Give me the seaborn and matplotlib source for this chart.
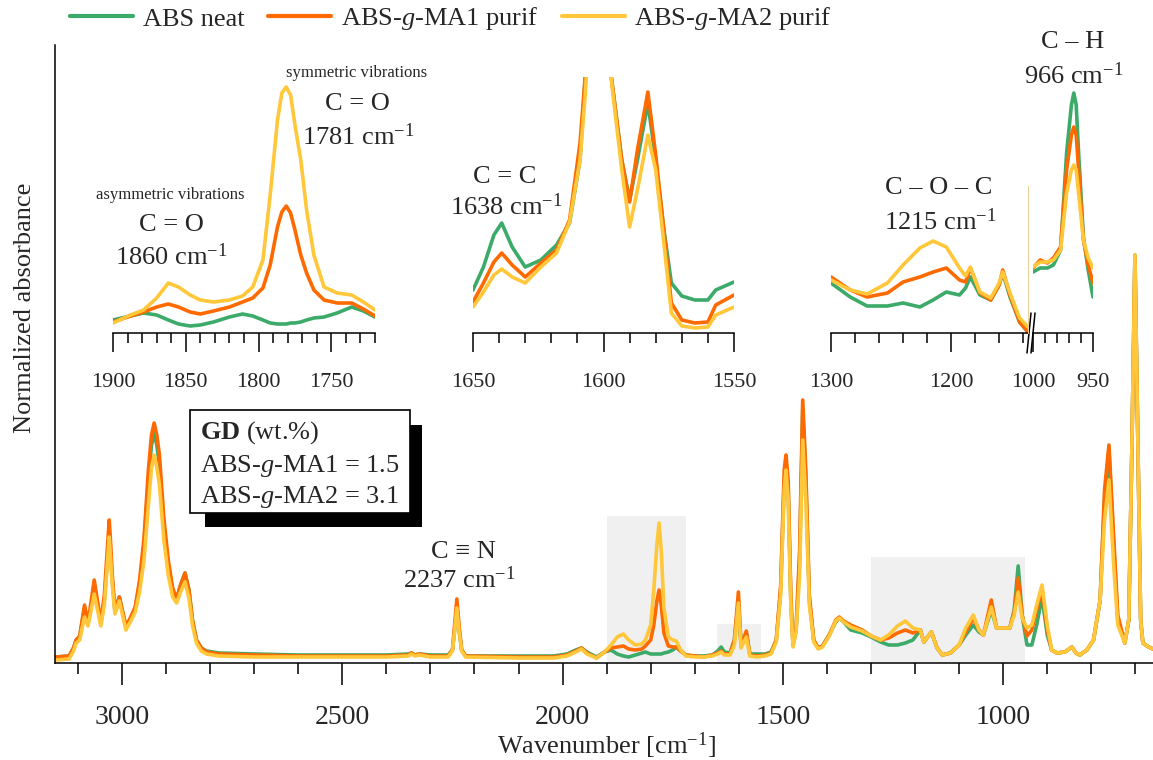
import numpy as np
import pandas as pd
import matplotlib
matplotlib.use("Agg")
import matplotlib.pyplot as plt
import seaborn as sns
from matplotlib.ticker import MultipleLocator
from matplotlib.patches import Rectangle
from matplotlib.lines import Line2D

# ---------------- data (absorbance, arbitrary normalized units) ----------------
SAMPLES = ["ABS neat", "ABS-$g$-MA1 purif", "ABS-$g$-MA2 purif"]
COLORS = ["#3CAA69", "#FF6A00", "#FFC739"]

main_wn = [3150, 3120, 3110, 3104, 3096, 3085, 3077, 3063, 3048, 3040, 3032, 3029, 3026, 3022,
           3016, 3006, 2991, 2980, 2970, 2960, 2950, 2940, 2933, 2927, 2921, 2915, 2905, 2895,
           2885, 2876, 2867, 2857, 2848, 2840, 2831, 2820, 2808, 2780, 2700, 2600, 2500, 2400,
           2350, 2343, 2335, 2325, 2300, 2260, 2250, 2245, 2240, 2235, 2229, 2220, 2100, 2020,
           1990, 1970, 1957, 1945, 1923, 1905, 1890, 1876, 1862, 1850, 1835, 1820, 1812, 1800,
           1793, 1786, 1781, 1776, 1770, 1760, 1750, 1742, 1732, 1720, 1700, 1680, 1660, 1648,
           1640, 1633, 1620, 1610, 1601, 1595, 1583, 1575, 1560, 1540, 1527, 1515, 1505, 1497,
           1493, 1488, 1482, 1477, 1470, 1462, 1455, 1448, 1440, 1430, 1420, 1410, 1395, 1380,
           1372, 1362, 1346, 1320, 1300, 1278, 1260, 1240, 1222, 1205, 1188, 1180, 1163, 1150,
           1138, 1120, 1100, 1085, 1068, 1055, 1045, 1027, 1015, 1000, 985, 975, 966, 957, 946,
           935, 924, 912, 900, 890, 878, 860, 844, 835, 826, 810, 795, 780, 770, 760, 750, 740,
           724, 715, 708, 701, 694, 688, 683, 670, 660]
main_neat = [0.06, 0.07, 0.15, 0.23, 0.26, 0.55, 0.40, 0.74, 0.40, 0.63, 1.10, 1.30, 1.10, 0.83,
             0.52, 0.66, 0.36, 0.45, 0.55, 0.78, 1.18, 1.83, 2.18, 2.30, 2.18, 1.98, 1.38, 0.98,
             0.73, 0.64, 0.78, 0.90, 0.73, 0.43, 0.23, 0.15, 0.12, 0.10, 0.09, 0.08, 0.08, 0.08,
             0.09, 0.10, 0.08, 0.09, 0.08, 0.08, 0.13, 0.33, 0.57, 0.33, 0.13, 0.07, 0.07, 0.07,
             0.09, 0.13, 0.15, 0.11, 0.06, 0.11, 0.13, 0.09, 0.07, 0.06, 0.08, 0.10, 0.11, 0.09,
             0.09, 0.09, 0.09, 0.09, 0.10, 0.11, 0.13, 0.16, 0.12, 0.08, 0.07, 0.07, 0.08, 0.12,
             0.16, 0.11, 0.10, 0.23, 0.63, 0.18, 0.30, 0.09, 0.09, 0.09, 0.11, 0.23, 0.73, 1.83,
             2.03, 1.73, 0.63, 0.18, 0.33, 1.03, 2.53, 1.83, 0.63, 0.23, 0.15, 0.17, 0.28, 0.41,
             0.45, 0.41, 0.33, 0.30, 0.26, 0.21, 0.18, 0.18, 0.20, 0.23, 0.33, 0.21, 0.31, 0.15,
             0.08, 0.10, 0.18, 0.28, 0.38, 0.31, 0.28, 0.53, 0.35, 0.35, 0.35, 0.53, 0.97, 0.48,
             0.18, 0.18, 0.38, 0.66, 0.28, 0.13, 0.10, 0.11, 0.16, 0.10, 0.08, 0.13, 0.23, 0.63,
             1.63, 2.13, 1.23, 0.43, 0.20, 0.43, 2.13, 4.08, 2.13, 0.43, 0.20, 0.16, 0.14]
main_ma1 = [0.06, 0.07, 0.15, 0.23, 0.27, 0.58, 0.40, 0.83, 0.41, 0.68, 1.22, 1.43, 1.22, 0.88,
            0.53, 0.66, 0.37, 0.46, 0.56, 0.83, 1.25, 1.93, 2.28, 2.40, 2.28, 2.08, 1.45, 1.03,
            0.75, 0.64, 0.78, 0.90, 0.73, 0.43, 0.23, 0.15, 0.11, 0.09, 0.08, 0.07, 0.07, 0.07,
            0.08, 0.10, 0.08, 0.09, 0.07, 0.07, 0.13, 0.38, 0.64, 0.38, 0.13, 0.07, 0.06, 0.06,
            0.08, 0.12, 0.15, 0.10, 0.05, 0.11, 0.15, 0.16, 0.17, 0.14, 0.13, 0.14, 0.17, 0.23,
            0.38, 0.62, 0.73, 0.58, 0.30, 0.17, 0.16, 0.16, 0.12, 0.08, 0.07, 0.06, 0.08, 0.10,
            0.12, 0.09, 0.09, 0.23, 0.71, 0.17, 0.32, 0.08, 0.07, 0.08, 0.10, 0.23, 0.78, 1.93,
            2.08, 1.83, 0.68, 0.18, 0.35, 1.13, 2.63, 1.93, 0.68, 0.23, 0.15, 0.17, 0.28, 0.43,
            0.46, 0.42, 0.38, 0.33, 0.27, 0.23, 0.25, 0.30, 0.33, 0.30, 0.33, 0.21, 0.31, 0.15,
            0.08, 0.10, 0.18, 0.31, 0.45, 0.33, 0.28, 0.63, 0.35, 0.35, 0.35, 0.51, 0.85, 0.48,
            0.27, 0.33, 0.53, 0.75, 0.33, 0.13, 0.10, 0.11, 0.16, 0.10, 0.08, 0.13, 0.23, 0.63,
            1.73, 2.18, 1.33, 0.48, 0.20, 0.43, 2.13, 4.05, 2.13, 0.43, 0.20, 0.16, 0.14]
main_ma2 = [0.03, 0.04, 0.12, 0.20, 0.23, 0.46, 0.37, 0.69, 0.37, 0.58, 1.06, 1.26, 1.06, 0.78,
            0.49, 0.62, 0.33, 0.42, 0.51, 0.71, 1.03, 1.58, 1.95, 2.08, 1.96, 1.78, 1.23, 0.88,
            0.66, 0.60, 0.71, 0.81, 0.65, 0.38, 0.20, 0.12, 0.09, 0.07, 0.06, 0.06, 0.06, 0.06,
            0.07, 0.09, 0.07, 0.08, 0.06, 0.06, 0.12, 0.32, 0.55, 0.32, 0.12, 0.06, 0.05, 0.05,
            0.07, 0.11, 0.14, 0.09, 0.05, 0.11, 0.18, 0.26, 0.29, 0.23, 0.18, 0.19, 0.23, 0.38,
            0.73, 1.18, 1.40, 1.12, 0.55, 0.26, 0.23, 0.22, 0.13, 0.07, 0.06, 0.06, 0.07, 0.09,
            0.11, 0.08, 0.08, 0.18, 0.60, 0.15, 0.26, 0.07, 0.06, 0.07, 0.09, 0.21, 0.68, 1.73,
            1.93, 1.63, 0.58, 0.16, 0.31, 0.88, 2.23, 1.63, 0.58, 0.21, 0.14, 0.16, 0.27, 0.42,
            0.45, 0.41, 0.36, 0.32, 0.27, 0.23, 0.28, 0.37, 0.42, 0.35, 0.33, 0.21, 0.31, 0.15,
            0.08, 0.10, 0.18, 0.35, 0.48, 0.33, 0.28, 0.56, 0.35, 0.35, 0.35, 0.48, 0.71, 0.45,
            0.35, 0.38, 0.58, 0.78, 0.38, 0.13, 0.10, 0.11, 0.16, 0.10, 0.08, 0.13, 0.23, 0.63,
            1.43, 1.83, 1.03, 0.38, 0.20, 0.43, 2.13, 4.08, 2.13, 0.43, 0.20, 0.16, 0.14]

# inset 1: C=O region
co_wn = [1900, 1888, 1879, 1870, 1862, 1855, 1847, 1840, 1831, 1820, 1811, 1804, 1797, 1792,
         1787, 1784, 1781, 1778, 1775, 1771, 1767, 1762, 1755, 1746, 1736, 1728, 1720]
co_neat = [0.13, 0.17, 0.20, 0.18, 0.13, 0.09, 0.07, 0.08, 0.11, 0.16, 0.19, 0.17, 0.13, 0.10,
           0.09, 0.09, 0.09, 0.10, 0.10, 0.11, 0.13, 0.15, 0.16, 0.20, 0.26, 0.22, 0.16]
co_ma1 = [0.11, 0.17, 0.21, 0.26, 0.29, 0.26, 0.21, 0.19, 0.22, 0.26, 0.31, 0.35, 0.45, 0.68,
          1.06, 1.21, 1.27, 1.20, 1.03, 0.78, 0.60, 0.43, 0.33, 0.30, 0.30, 0.24, 0.17]
co_ma2 = [0.10, 0.18, 0.23, 0.35, 0.50, 0.46, 0.38, 0.33, 0.31, 0.33, 0.37, 0.46, 0.73, 1.38,
          2.13, 2.40, 2.46, 2.38, 2.08, 1.73, 1.23, 0.78, 0.46, 0.40, 0.38, 0.31, 0.23]

# inset 2: C=C region
cc_wn = [1650, 1646, 1642, 1639, 1635, 1630, 1624, 1618, 1613, 1609, 1607, 1601, 1597, 1593,
         1590, 1587, 1583, 1580, 1577, 1574, 1570, 1565, 1560, 1557, 1550]
cc_neat = [0.43, 0.66, 0.98, 1.10, 0.86, 0.66, 0.73, 0.88, 1.10, 1.73, 2.56, 5.00, 2.56, 1.73,
           1.33, 1.73, 2.30, 1.73, 1.06, 0.50, 0.37, 0.33, 0.33, 0.43, 0.51]
cc_ma1 = [0.31, 0.50, 0.71, 0.80, 0.68, 0.56, 0.70, 0.83, 1.13, 1.90, 2.56, 5.00, 2.56, 1.73,
          1.31, 1.83, 2.41, 1.78, 1.06, 0.30, 0.13, 0.10, 0.11, 0.28, 0.38]
cc_ma2 = [0.26, 0.41, 0.58, 0.64, 0.56, 0.50, 0.66, 0.80, 1.11, 1.73, 2.38, 5.00, 2.53, 1.63,
          1.06, 1.43, 1.98, 1.63, 0.93, 0.20, 0.07, 0.05, 0.06, 0.18, 0.26]

# inset 3a: C-O-C region
coc_wn = [1300, 1284, 1270, 1253, 1240, 1226, 1215, 1204, 1193, 1188, 1184, 1180, 1176, 1167,
          1160, 1157, 1151, 1143, 1136]
coc_neat = [0.50, 0.36, 0.27, 0.27, 0.30, 0.26, 0.33, 0.41, 0.38, 0.45, 0.56, 0.47, 0.38, 0.33,
            0.48, 0.60, 0.36, 0.11, 0.01]
coc_ma1 = [0.56, 0.43, 0.36, 0.40, 0.51, 0.56, 0.61, 0.65, 0.53, 0.51, 0.65, 0.53, 0.40, 0.33,
           0.48, 0.63, 0.38, 0.11, 0.01]
coc_ma2 = [0.53, 0.43, 0.39, 0.50, 0.68, 0.85, 0.92, 0.86, 0.65, 0.57, 0.66, 0.53, 0.41, 0.35,
           0.50, 0.61, 0.40, 0.15, 0.06]

# inset 3b: C-H region
ch_wn = [1000, 994, 988, 983, 977, 972, 968, 966, 964, 962, 958, 954, 950]
ch_neat = [0.61, 0.65, 0.65, 0.68, 0.83, 1.80, 2.28, 2.40, 2.28, 1.80, 0.96, 0.63, 0.36]
ch_ma1 = [0.65, 0.73, 0.70, 0.75, 0.86, 1.63, 1.98, 2.06, 1.98, 1.63, 0.93, 0.68, 0.50]
ch_ma2 = [0.66, 0.71, 0.71, 0.73, 0.83, 1.40, 1.63, 1.68, 1.63, 1.40, 0.93, 0.75, 0.65]

main_ticks = [3000, 2500, 2000, 1500, 1000]

# ---------------- style ----------------
sns.set_style("white")
plt.rcParams["font.family"] = ["Liberation Serif", "DejaVu Serif"]
plt.rcParams["mathtext.fontset"] = "custom"
plt.rcParams["mathtext.rm"] = "Liberation Serif"
plt.rcParams["mathtext.it"] = "Liberation Serif:italic"
plt.rcParams["mathtext.bf"] = "Liberation Serif:bold"

W, H = 1153, 760
fig = plt.figure(figsize=(W / 100, H / 100), dpi=100)


def rect(x0, y0, x1, y1):
    return [x0 / W, 1 - y1 / H, (x1 - x0) / W, (y1 - y0) / H]


def fx(x):
    return x / W


def fy(y):
    return 1 - y / H


def long_df(wn, series):
    frames = [pd.DataFrame({"wn": wn, "A": vals, "sample": name})
              for name, vals in zip(SAMPLES, series)]
    return pd.concat(frames, ignore_index=True)


def draw(ax, wn, series, legend=False, lw=2.6):
    sns.lineplot(data=long_df(wn, series), x="wn", y="A", hue="sample",
                 hue_order=SAMPLES, palette=COLORS, estimator=None, sort=False,
                 lw=lw, legend=legend, ax=ax)
    ax.set_xlabel("")
    ax.set_ylabel("")


def style_axis(ax, majors, minor_step, labelsize, pad, maj_len=14, min_len=7):
    ax.set_facecolor("none")
    for s in ["top", "right", "left"]:
        ax.spines[s].set_visible(False)
    ax.spines["bottom"].set_color("black")
    ax.spines["bottom"].set_linewidth(1.1)
    ax.set_yticks([])
    ax.set_xticks(majors)
    ax.xaxis.set_minor_locator(MultipleLocator(minor_step))
    ax.tick_params(axis="x", which="major", direction="out", length=maj_len, width=1.1,
                   color="black", labelsize=labelsize, pad=pad, bottom=True)
    ax.tick_params(axis="x", which="minor", direction="out", length=min_len, width=1.1,
                   color="black", bottom=True)


# ---------------- main axes ----------------
ax = fig.add_axes(rect(55, 45, 1153, 663))
for (a, b, top) in [(1900, 1720, 1.47), (1650, 1550, 0.39), (1300, 950, 1.06)]:
    ax.add_patch(Rectangle((b, 0), a - b, top, facecolor="#F0F0F0", edgecolor="none", zorder=0))
draw(ax, main_wn, [main_neat, main_ma1, main_ma2], legend=True)
handles, labels = ax.get_legend_handles_labels()
ax.get_legend().remove()
ax.set_xlim(3152, 660)
ax.set_ylim(0, 6.18)
style_axis(ax, main_ticks, 100, 20, 14, maj_len=16, min_len=8)
ax.spines["left"].set_visible(True)
ax.spines["left"].set_color("black")
ax.spines["left"].set_linewidth(1.1)

# ---------------- insets ----------------
ax1 = fig.add_axes(rect(113, 60, 375, 333))
draw(ax1, co_wn, [co_neat, co_ma1, co_ma2])
ax1.set_xlim(1900, 1720)
ax1.set_ylim(0, 2.73)
style_axis(ax1, [1900, 1850, 1800, 1750], 10, 16, 15)

ax2 = fig.add_axes(rect(473, 77, 734, 333))
draw(ax2, cc_wn, [cc_neat, cc_ma1, cc_ma2])
ax2.set_xlim(1650, 1550)
ax2.set_ylim(0, 2.56)
style_axis(ax2, [1650, 1600, 1550], 10, 16, 15)

ax3a = fig.add_axes(rect(831, 60, 1028, 333))
draw(ax3a, coc_wn, [coc_neat, coc_ma1, coc_ma2])
ax3a.set_xlim(1300, 1136)
ax3a.set_ylim(0, 2.73)
style_axis(ax3a, [1300, 1200], 20, 16, 15)

ax3b = fig.add_axes(rect(1033, 60, 1093, 333))
draw(ax3b, ch_wn, [ch_neat, ch_ma1, ch_ma2])
ax3b.set_xlim(1000, 950)
ax3b.set_ylim(0, 2.73)
style_axis(ax3b, [1000, 950], 10, 16, 15)

# axis break marks and faint edge line
for x0 in (1027, 1031):
    fig.add_artist(Line2D([fx(x0), fx(x0 + 4)], [fy(353), fy(313)], color="black", lw=1.1))
fig.add_artist(Line2D([fx(1028), fx(1028)], [fy(186), fy(333)], color="#EBCF9A", lw=0.8))

# ---------------- texts ----------------
TS = 19
fig.text(fx(25), fy(308), "Normalized absorbance", rotation=90, ha="center", va="center", fontsize=TS)
fig.text(fx(606), fy(746), "Wavenumber [cm$^{-1}$]", ha="center", va="center", fontsize=TS)

fig.text(fx(463), fy(552), "C ≡ N", ha="center", va="center", fontsize=TS)
fig.text(fx(459), fy(580), "2237 cm$^{-1}$", ha="center", va="center", fontsize=TS)

fig.text(fx(357), fy(73), "symmetric vibrations", ha="center", va="center", fontsize=12)
fig.text(fx(357), fy(104), "C = O", ha="center", va="center", fontsize=TS)
fig.text(fx(358), fy(137), "1781 cm$^{-1}$", ha="center", va="center", fontsize=TS)
fig.text(fx(170), fy(195), "asymmetric vibrations", ha="center", va="center", fontsize=12)
fig.text(fx(171), fy(225), "C = O", ha="center", va="center", fontsize=TS)
fig.text(fx(171), fy(257), "1860 cm$^{-1}$", ha="center", va="center", fontsize=TS)

fig.text(fx(505), fy(177), "C = C", ha="center", va="center", fontsize=TS)
fig.text(fx(506), fy(207), "1638 cm$^{-1}$", ha="center", va="center", fontsize=TS)

fig.text(fx(939), fy(188), "C – O – C", ha="center", va="center", fontsize=TS)
fig.text(fx(940), fy(222), "1215 cm$^{-1}$", ha="center", va="center", fontsize=TS)
fig.text(fx(1073), fy(42), "C – H", ha="center", va="center", fontsize=TS)
fig.text(fx(1074), fy(76), "966 cm$^{-1}$", ha="center", va="center", fontsize=TS)

# grafting degree box with shadow
fig.add_artist(Rectangle((fx(205), fy(527)), (422 - 205) / W, (527 - 425) / H,
                         transform=fig.transFigure, facecolor="black", edgecolor="none", zorder=5))
fig.add_artist(Rectangle((fx(190), fy(513)), (410 - 190) / W, (513 - 410) / H,
                         transform=fig.transFigure, facecolor="white", edgecolor="black",
                         lw=1.2, zorder=6))
fig.text(fx(200), fy(433), "$\\mathbf{GD}$ (wt.%)", ha="left", va="center", fontsize=TS, zorder=7)
fig.text(fx(200), fy(466), "ABS-$g$-MA1 = 1.5", ha="left", va="center", fontsize=TS, zorder=7)
fig.text(fx(200), fy(497), "ABS-$g$-MA2 = 3.1", ha="left", va="center", fontsize=TS, zorder=7)

# legend
for h in handles:
    h.set_linewidth(3)
fig.legend(handles, labels, loc="center", bbox_to_anchor=(fx(451), fy(19)), ncol=3,
           frameon=False, fontsize=TS, handlelength=2.4, handletextpad=0.35, columnspacing=0.9)

fig.savefig("out.png", dpi=100)
